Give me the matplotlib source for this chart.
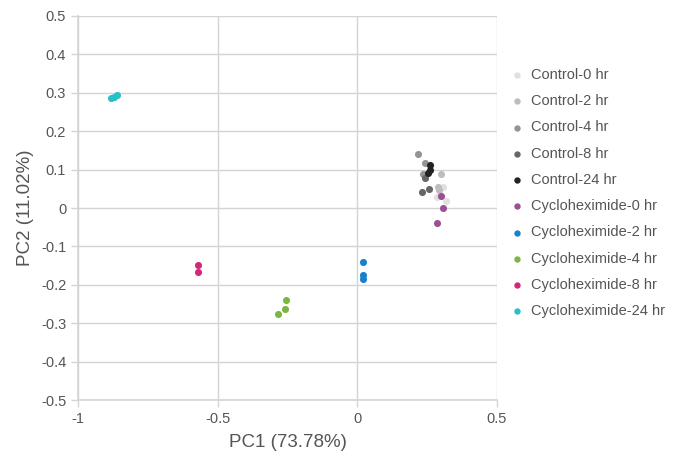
import matplotlib
matplotlib.use("Agg")
import matplotlib.pyplot as plt

plt.rcParams['font.family'] = ['Liberation Sans', 'DejaVu Sans']

groups = ['Control-0 hr', 'Control-2 hr', 'Control-4 hr', 'Control-8 hr', 'Control-24 hr',
          'Cycloheximide-0 hr', 'Cycloheximide-2 hr', 'Cycloheximide-4 hr',
          'Cycloheximide-8 hr', 'Cycloheximide-24 hr']
colors = ['#e0e0e0', '#bdbdbd', '#949494', '#666666', '#222222',
          '#9c4f98', '#1a80c8', '#7db543', '#d1287b', '#27bfc8']

pc1 = [
    [0.306, 0.286, 0.318],
    [0.301, 0.288, 0.294],
    [0.219, 0.243, 0.235],
    [0.244, 0.231, 0.256],
    [0.261, 0.259, 0.253],
    [0.299, 0.306, 0.287],
    [0.019, 0.019, 0.019],
    [-0.257, -0.260, -0.285],
    [-0.571, -0.571],
    [-0.880, -0.871, -0.862],
]
pc2 = [
    [0.055, 0.028, 0.019],
    [0.088, 0.055, 0.046],
    [0.141, 0.118, 0.088],
    [0.077, 0.042, 0.050],
    [0.113, 0.100, 0.092],
    [0.032, 0.000, -0.040],
    [-0.141, -0.174, -0.185],
    [-0.240, -0.263, -0.276],
    [-0.148, -0.167],
    [0.286, 0.290, 0.294],
]

fig = plt.figure(figsize=(6.81, 4.57), dpi=100)
ax = fig.add_axes([0.1145, 0.1247, 0.7298 - 0.1145, 0.965 - 0.1247])

for name, c, xs, ys in zip(groups, colors, pc1, pc2):
    ax.scatter(xs, ys, s=26, color=c, label=name, linewidths=0, zorder=3)

ax.set_xlim(-1, 0.5)
ax.set_ylim(-0.5, 0.5)
ax.set_xticks([-1, -0.5, 0, 0.5])
ax.set_xticklabels(['-1', '-0.5', '0', '0.5'])
yt = [-0.5, -0.4, -0.3, -0.2, -0.1, 0, 0.1, 0.2, 0.3, 0.4, 0.5]
ax.set_yticks(yt)
ax.set_yticklabels(['0' if v == 0 else f'{v:g}' for v in yt])

grid_c = '#d4d4d4'
ax.grid(True, color=grid_c, linewidth=1, zorder=0)
ax.set_axisbelow(True)
for side in ['top', 'right']:
    ax.spines[side].set_visible(False)
for side in ['left', 'bottom']:
    ax.spines[side].set_color(grid_c)
    ax.spines[side].set_linewidth(1.2)
ax.tick_params(colors=grid_c, labelcolor='#555555', labelsize=10.5, length=5, width=1)

ax.set_xlabel('PC1 (73.78%)', fontsize=13.5, color='#555555', labelpad=6)
ax.set_ylabel('PC2 (11.02%)', fontsize=13.5, color='#555555', labelpad=5)

leg = ax.legend(loc='upper left', bbox_to_anchor=(0.7376, 0.864), bbox_transform=fig.transFigure,
                frameon=False, fontsize=10.5, labelspacing=0.84, handletextpad=0.35,
                markerscale=0.9, borderaxespad=0, handlelength=1.2)
for t in leg.get_texts():
    t.set_color('#555555')

fig.savefig('out.png', dpi=100)
